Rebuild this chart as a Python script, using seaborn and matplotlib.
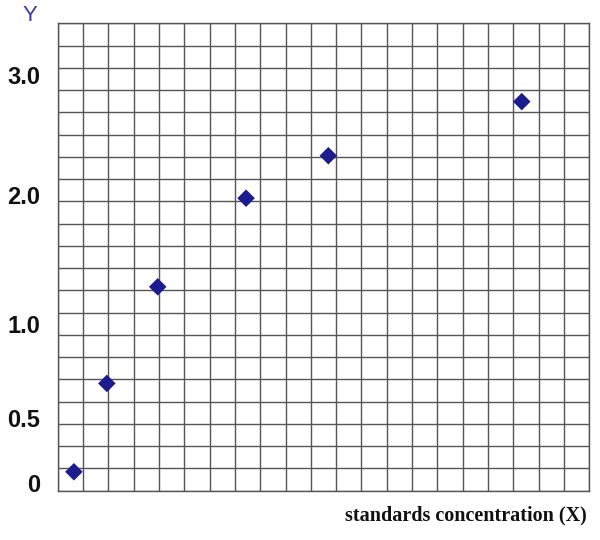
import numpy as np
import matplotlib
matplotlib.use('Agg')
import matplotlib.pyplot as plt
import seaborn as sns
import pandas as pd

# grid-unit positions of the standards
conc_x = [0.64, 1.94, 3.95, 7.44, 10.69, 18.33]
resp_y = [0.85, 4.82, 9.16, 13.14, 15.05, 17.48]

# y labels as printed on the sheet, and where they sit on the grid
y_tick_pos = [0.34, 3.26, 7.49, 13.27, 18.67]
y_tick_labels = ['0', '0.5', '1.0', '2.0', '3.0']

n_cells = 21

df = pd.DataFrame({'x': conc_x, 'y': resp_y})

sns.set_style('white')
plt.rcParams['font.family'] = ['Liberation Sans', 'DejaVu Sans']

fig = plt.figure(figsize=(6, 5.4), dpi=100)
ax = fig.add_axes([0.0962, 0.0913, 0.886, 0.8656])

sns.scatterplot(data=df, x='x', y='y', marker='D', s=80, color='#1c1c8e',
                edgecolor='none', zorder=3, ax=ax)

ax.set_xlim(0, n_cells)
ax.set_ylim(0, n_cells)

# grid on minor ticks, labels on major ticks
ax.set_xticks(np.arange(0, n_cells + 1), minor=True)
ax.set_yticks(np.arange(0, n_cells + 1), minor=True)
ax.set_xticks([])
ax.set_yticks(y_tick_pos)
ax.set_yticklabels(y_tick_labels, fontsize=17, fontweight='bold', color='#111111')
ax.tick_params(axis='y', which='major', length=0, pad=12.5)
ax.tick_params(which='minor', length=0)
ax.grid(which='minor', color='#555555', linewidth=1.0)
ax.grid(which='major', visible=False)
for sp in ax.spines.values():
    sp.set_color('#555555')
    sp.set_linewidth(1.0)

ax.set_xlabel('')
ax.set_ylabel('')

fig.text(0.05, 0.971, 'Y', fontsize=16, color='#3a3aa8', ha='center', va='center')
fig.text(0.978, 0.046, 'standards concentration (X)', fontsize=14.5, fontweight='bold',
         family=['Liberation Serif', 'DejaVu Serif'], ha='right', va='center', color='#111111')

fig.savefig('out.png', dpi=100)
